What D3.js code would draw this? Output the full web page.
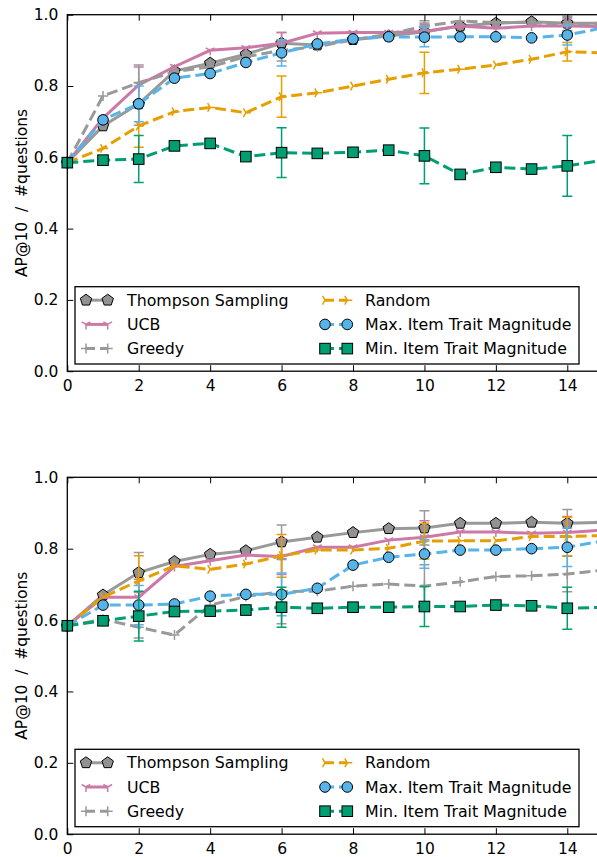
<!DOCTYPE html>
<html>
<head>
<meta charset="utf-8">
<script src="https://cdn.jsdelivr.net/npm/d3@7"></script>
<style>
  html, body { margin: 0; padding: 0; background: #fff; overflow: hidden; }
  svg { display: block; font-family: "DejaVu Sans", sans-serif; }
</style>
</head>
<body>
<svg id="chart" width="597" height="857"></svg>
<script>
// Number of questions asked (x axis)
const steps = d3.range(0, 16);
// Steps at which an error bar is drawn
const errSteps = [2, 6, 10, 14];
const xTicks = [0, 2, 4, 6, 8, 10, 12, 14];
const yTicks = [0.0, 0.2, 0.4, 0.6, 0.8, 1.0];

const seriesNames = ["Thompson Sampling", "UCB", "Greedy", "Random",
                     "Max. Item Trait Magnitude", "Min. Item Trait Magnitude"];

// ---- upper panel: AP@10 / #questions per strategy ----
const topThompson = [0.585, 0.688, 0.75, 0.842, 0.864, 0.889, 0.92, 0.915, 0.93, 0.94, 0.952, 0.968, 0.976, 0.98, 0.976, 0.976];
const topUCB      = [0.585, 0.71, 0.803, 0.854, 0.90, 0.907, 0.92, 0.948, 0.95, 0.95, 0.953, 0.968, 0.962, 0.968, 0.968, 0.967];
const topGreedy   = [0.585, 0.772, 0.809, 0.84, 0.854, 0.882, 0.90, 0.91, 0.93, 0.945, 0.968, 0.982, 0.978, 0.978, 0.972, 0.975];
const topRandom   = [0.585, 0.625, 0.688, 0.728, 0.74, 0.725, 0.77, 0.781, 0.80, 0.819, 0.837, 0.847, 0.859, 0.875, 0.896, 0.893];
const topMax      = [0.585, 0.705, 0.75, 0.822, 0.835, 0.866, 0.893, 0.918, 0.932, 0.938, 0.937, 0.938, 0.938, 0.935, 0.943, 0.963];
const topMin      = [0.585, 0.592, 0.595, 0.632, 0.639, 0.602, 0.613, 0.611, 0.614, 0.62, 0.604, 0.552, 0.572, 0.567, 0.576, 0.592];

const topErrThompson = [0.06, 0.03, 0.025, 0.02];
const topErrUCB      = [0.05, 0.03, 0.02, 0.02];
const topErrGreedy   = [0.05, 0.03, 0.015, 0.02];
const topErrRandom   = [0.06, 0.058, 0.058, 0.026];
const topErrMax      = [0.05, 0.037, 0.027, 0.028];
const topErrMin      = [0.066, 0.07, 0.078, 0.085];

// ---- lower panel ----
const botThompson = [0.584, 0.670, 0.733, 0.764, 0.784, 0.794, 0.819, 0.832, 0.845, 0.856, 0.858, 0.871, 0.871, 0.874, 0.871, 0.874];
const botUCB      = [0.584, 0.664, 0.664, 0.75, 0.766, 0.782, 0.778, 0.804, 0.804, 0.824, 0.832, 0.847, 0.847, 0.843, 0.845, 0.852];
const botGreedy   = [0.584, 0.602, 0.58, 0.558, 0.642, 0.666, 0.68, 0.681, 0.695, 0.701, 0.695, 0.707, 0.722, 0.724, 0.729, 0.74];
const botRandom   = [0.584, 0.664, 0.71, 0.752, 0.742, 0.757, 0.78, 0.796, 0.796, 0.801, 0.821, 0.822, 0.822, 0.834, 0.834, 0.837];
const botMax      = [0.584, 0.642, 0.642, 0.645, 0.667, 0.672, 0.672, 0.689, 0.754, 0.776, 0.785, 0.796, 0.796, 0.80, 0.804, 0.822];
const botMin      = [0.584, 0.598, 0.611, 0.624, 0.625, 0.628, 0.636, 0.633, 0.636, 0.636, 0.638, 0.638, 0.642, 0.640, 0.633, 0.636];

const botErrThompson = [0.056, 0.047, 0.048, 0.039];
const botErrUCB      = [0.05, 0.05, 0.046, 0.045];
const botErrGreedy   = [0.03, 0.09, 0.06, 0.05];
const botErrRandom   = [0.07, 0.06, 0.05, 0.054];
const botErrMax      = [0.055, 0.06, 0.04, 0.054];
const botErrMin      = [0.07, 0.056, 0.056, 0.059];

// Visual style of each strategy
const styles = [
  { color: "#999999", dash: null,   marker: "pentagon", fill: "#929292" },
  { color: "#CC79A7", dash: null,   marker: "triDown" },
  { color: "#999999", dash: "11,5", marker: "plus" },
  { color: "#E69F00", dash: "11,5", marker: "triRight" },
  { color: "#56B4E9", dash: "11,5", marker: "circle", fill: "#56B4E9" },
  { color: "#009E73", dash: "11,5", marker: "square", fill: "#009E73" }
];

const panels = [
  { top: 14.7, bottom: 371.2,
    values: [topThompson, topUCB, topGreedy, topRandom, topMax, topMin],
    errors: [topErrThompson, topErrUCB, topErrGreedy, topErrRandom, topErrMax, topErrMin],
    legend: { x0: 75, y0: 286.7, x1: 579, y1: 364 } },
  { top: 477.3, bottom: 834.2,
    values: [botThompson, botUCB, botGreedy, botRandom, botMax, botMin],
    errors: [botErrThompson, botErrUCB, botErrGreedy, botErrRandom, botErrMax, botErrMin],
    legend: { x0: 75, y0: 749.3, x1: 579, y1: 826.7 } }
];

const svg = d3.select("#chart");
const left = 67.3, right = 603;
const x = d3.scaleLinear().domain([0, 15]).range([left, right]);

function pentagonPath(r) {
  const pts = d3.range(5).map(k => {
    const a = -Math.PI / 2 + k * 2 * Math.PI / 5;
    return [r * Math.cos(a), r * Math.sin(a)];
  });
  return "M" + pts.map(p => p.join(",")).join("L") + "Z";
}

function drawMarker(g, st, cx, cy) {
  const m = g.append("g").attr("transform", `translate(${cx},${cy})`);
  if (st.marker === "pentagon") {
    m.append("path").attr("d", pentagonPath(6))
      .attr("fill", st.fill).attr("stroke", "#000").attr("stroke-width", 1);
  } else if (st.marker === "circle") {
    m.append("circle").attr("r", 5.3)
      .attr("fill", st.fill).attr("stroke", "#000").attr("stroke-width", 1);
  } else if (st.marker === "square") {
    m.append("rect").attr("x", -5.3).attr("y", -5.3).attr("width", 10.6).attr("height", 10.6)
      .attr("fill", st.fill).attr("stroke", "#000").attr("stroke-width", 1);
  } else if (st.marker === "plus") {
    m.append("path").attr("d", "M-5,0H5M0,-5V5")
      .attr("stroke", st.color).attr("stroke-width", 1.5).attr("fill", "none");
  } else if (st.marker === "triDown") {
    const r = 5;
    m.append("path")
      .attr("d", `M0,0V${r}M0,0L${-r * 0.866},${-r * 0.5}M0,0L${r * 0.866},${-r * 0.5}`)
      .attr("stroke", st.color).attr("stroke-width", 1.5).attr("fill", "none");
  } else if (st.marker === "triRight") {
    const r = 5;
    m.append("path")
      .attr("d", `M0,0H${r}M0,0L${-r * 0.5},${-r * 0.866}M0,0L${-r * 0.5},${r * 0.866}`)
      .attr("stroke", st.color).attr("stroke-width", 1.5).attr("fill", "none");
  }
}

panels.forEach((p, pi) => {
  const y = d3.scaleLinear().domain([0, 1]).range([p.bottom, p.top]);
  const g = svg.append("g");

  // series lines, error bars and markers
  p.values.forEach((vals, si) => {
    const st = styles[si];
    const line = d3.line().x((d, i) => x(steps[i])).y(d => y(d));
    g.append("path").datum(vals)
      .attr("d", line)
      .attr("fill", "none")
      .attr("stroke", st.color)
      .attr("stroke-width", 3)
      .attr("stroke-dasharray", st.dash);

    errSteps.forEach((s, k) => {
      const e = p.errors[si][k];
      const cx = x(s), ylo = y(vals[s] - e), yhi = y(vals[s] + e);
      g.append("path")
        .attr("d", `M${cx},${ylo}V${yhi}M${cx - 5},${ylo}H${cx + 5}M${cx - 5},${yhi}H${cx + 5}`)
        .attr("stroke", st.color).attr("stroke-width", 1.5).attr("fill", "none");
    });

    vals.forEach((v, i) => drawMarker(g, st, x(steps[i]), y(v)));
  });

  // frame
  g.append("rect")
    .attr("x", left).attr("y", p.top)
    .attr("width", right - left).attr("height", p.bottom - p.top)
    .attr("fill", "none").attr("stroke", "#000").attr("stroke-width", 1.3);

  // axes with inward ticks
  const axB = d3.axisBottom(x).tickValues(xTicks).tickFormat(d3.format("d")).tickSizeInner(-6).tickSizeOuter(0).tickPadding(9);
  const axT = d3.axisTop(x).tickValues(xTicks).tickFormat("").tickSizeInner(-6).tickSizeOuter(0);
  const axL = d3.axisLeft(y).tickValues(yTicks).tickFormat(d3.format(".1f")).tickSizeInner(-6).tickSizeOuter(0).tickPadding(9);
  const axR = d3.axisRight(y).tickValues(yTicks).tickFormat("").tickSizeInner(-6).tickSizeOuter(0);

  [[axB, `translate(0,${p.bottom})`], [axT, `translate(0,${p.top})`],
   [axL, `translate(${left},0)`], [axR, `translate(${right},0)`]].forEach(([ax, tr]) => {
    const a = g.append("g").attr("transform", tr).call(ax);
    a.select(".domain").remove();
    a.selectAll(".tick line").attr("stroke", "#000").attr("stroke-width", 1);
    a.selectAll(".tick text").attr("fill", "#000").style("font-size", "15.5px")
      .style("font-family", "'DejaVu Sans', sans-serif");
  });

  // y label
  g.append("text")
    .attr("transform", `translate(26.5,${(p.top + p.bottom) / 2}) rotate(-90)`)
    .attr("text-anchor", "middle")
    .style("font-size", "15.5px")
    .style("white-space", "pre")
    .attr("xml:space", "preserve")
    .text("AP@10  /  #questions");

  // legend
  const L = p.legend;
  g.append("rect")
    .attr("x", L.x0).attr("y", L.y0).attr("width", L.x1 - L.x0).attr("height", L.y1 - L.y0)
    .attr("fill", "#fff").attr("stroke", "#000").attr("stroke-width", 1.3);
  const rowY = k => L.y0 + 13.5 + k * 24.2;
  const cols = [{ m0: 86, m1: 107.7, tx: 127 }, { m0: 325, m1: 347.3, tx: 365 }];
  seriesNames.forEach((name, si) => {
    const c = cols[Math.floor(si / 3)];
    const ry = rowY(si % 3);
    const st = styles[si];
    g.append("line")
      .attr("x1", c.m0).attr("x2", c.m1).attr("y1", ry).attr("y2", ry)
      .attr("stroke", st.color).attr("stroke-width", 3)
      .attr("stroke-dasharray", st.dash ? "9,5" : null);
    drawMarker(g, st, c.m0, ry);
    drawMarker(g, st, c.m1, ry);
    g.append("text")
      .attr("x", c.tx).attr("y", ry)
      .attr("dy", "0.36em")
      .style("font-size", "15.8px")
      .text(name);
  });
});
</script>
</body>
</html>
